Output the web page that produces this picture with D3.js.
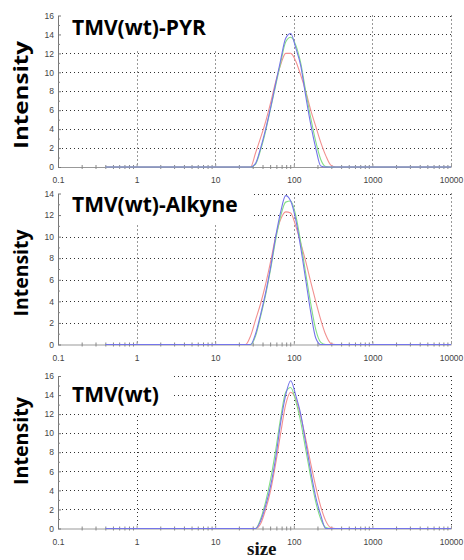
<!DOCTYPE html>
<html>
<head>
<meta charset="utf-8">
<script src="https://cdn.jsdelivr.net/npm/d3@7"></script>
<style>
  body { margin: 0; background: #fff; }
</style>
</head>
<body>
<div id="chart"></div>
<script>
// size bins (nm), shared by all three measurements
var sizes = [0.4, 21.04, 24.36, 28.21, 32.67, 37.84, 43.82, 50.75, 58.77, 68.06, 78.82, 91.28,
             105.7, 122.4, 141.8, 164.2, 190.1, 220.2, 255.0, 295.3, 342.0, 396.1, 10000];

// TMV(wt)-PYR
var pyrRed   = [0, 0, 0, 0, 1.5, 3.1, 4.8, 6.8, 9.0, 10.8, 12.0, 12.0, 11.2, 9.7, 8.0, 6.0, 4.3, 2.6, 1.2, 0.2, 0, 0, 0];
var pyrGreen = [0, 0, 0, 0, 0.3, 1.8, 3.8, 6.2, 8.6, 11.0, 13.2, 13.7, 12.9, 11.0, 8.0, 5.2, 2.7, 0.8, 0.05, 0, 0, 0, 0];
var pyrBlue  = [0, 0, 0, 0, 0.4, 2.0, 4.0, 6.3, 8.8, 11.3, 13.6, 14.1, 12.6, 10.7, 7.5, 4.5, 2.0, 0.1, 0, 0, 0, 0, 0];

// TMV(wt)-Alkyne
var alkRed   = [0, 0, 0, 0.8, 2.3, 3.8, 5.6, 7.7, 10.0, 11.6, 12.3, 12.2, 11.0, 9.4, 7.7, 5.8, 4.0, 2.3, 0.9, 0.1, 0, 0, 0];
var alkGreen = [0, 0, 0, 0, 0.8, 2.6, 4.6, 7.0, 9.7, 11.9, 13.2, 13.3, 12.0, 9.5, 6.6, 3.8, 1.4, 0.2, 0, 0, 0, 0, 0];
var alkBlue  = [0, 0, 0, 0, 1.0, 2.8, 4.8, 7.2, 10.0, 12.3, 13.8, 13.3, 11.6, 9.0, 6.0, 3.0, 0.6, 0, 0, 0, 0, 0, 0];

// TMV(wt)
var wtRed   = [0, 0, 0, 0, 0, 0.5, 2.0, 4.0, 6.8, 10.0, 13.0, 14.3, 13.6, 11.8, 9.4, 6.8, 4.4, 2.3, 0.8, 0.1, 0, 0, 0];
var wtGreen = [0, 0, 0, 0, 0, 1.0, 2.8, 5.2, 8.2, 11.6, 14.3, 14.8, 13.4, 11.2, 8.3, 5.4, 2.8, 1.0, 0.1, 0, 0, 0, 0];
var wtBlue  = [0, 0, 0, 0, 0, 0.8, 2.4, 4.5, 7.4, 11.1, 14.0, 15.5, 14.0, 12.0, 9.0, 6.0, 3.3, 1.4, 0, 0, 0, 0, 0];

var panelTitles = ["TMV(wt)-PYR", "TMV(wt)-Alkyne", "TMV(wt)"];
var panelYMax = [16, 14, 16];
var xTickValues = [0.1, 1, 10, 100, 1000, 10000];
var xTickLabels = ["0.1", "1", "10", "100", "1000", "10000"];
var seriesColors = ["#f29090", "#84de84", "#7474ea"];

var panelSeries = [
    [pyrRed, pyrGreen, pyrBlue],
    [alkRed, alkGreen, alkBlue],
    [wtRed, wtGreen, wtBlue]
];

// layout of each panel (pixels)
var layout = [
    { top: 15.5, bottom: 167, boxRight: 282, boxBottom: 51, titleY: 35, labelY: 95, labelLen: 108 },
    { top: 193.5, bottom: 344.5, boxRight: 252, boxBottom: 223, titleY: 212, labelY: 273, labelLen: 87 },
    { top: 376, bottom: 528.5, boxRight: 172, boxBottom: 413, titleY: 402, labelY: 441, labelLen: 88 }
];

var svg = d3.select("#chart")
    .append("svg")
    .attr("width", 464)
    .attr("height", 560);

var x = d3.scaleLog().domain([0.1, 10000]).range([58, 451]);
var minorX = x.ticks().filter(function (d) {
    return xTickValues.indexOf(d) < 0;
});

panelTitles.forEach(function (title, p) {
    var L = layout[p];
    var ymax = panelYMax[p];
    var y = d3.scaleLinear().domain([0, ymax]).range([L.bottom, L.top]);
    var g = svg.append("g");

    var majorY = d3.range(0, ymax + 1, 2);
    var minorY = d3.range(1, ymax, 2);

    // dotted grid
    g.selectAll(".hgrid")
        .data(majorY.filter(function (d) { return d > 0; }))
        .enter()
        .append("line")
        .attr("x1", x(0.1))
        .attr("x2", x(10000))
        .attr("y1", function (d) { return Math.round(y(d)) + 0.5; })
        .attr("y2", function (d) { return Math.round(y(d)) + 0.5; })
        .style("stroke", "#333")
        .style("stroke-dasharray", "1,3");

    g.selectAll(".vgrid")
        .data(xTickValues.slice(1))
        .enter()
        .append("line")
        .attr("x1", function (d) { return Math.round(x(d)) + 0.5; })
        .attr("x2", function (d) { return Math.round(x(d)) + 0.5; })
        .attr("y1", y(ymax))
        .attr("y2", y(0))
        .style("stroke", "#333")
        .style("stroke-dasharray", "1,3");

    // white box behind the title
    g.append("rect")
        .attr("x", x(0.1) + 1)
        .attr("y", L.top - 3)
        .attr("width", L.boxRight - x(0.1) - 1)
        .attr("height", L.boxBottom - L.top + 3)
        .style("fill", "#fff");

    // x axis
    g.append("g")
        .attr("transform", "translate(0," + y(0) + ")")
        .call(d3.axisBottom(x).tickValues(xTickValues)
            .tickFormat(function (d, i) { return xTickLabels[i]; })
            .tickSizeInner(-3).tickSizeOuter(0).tickPadding(10))
        .call(function (a) {
            a.select(".domain").style("stroke", "#999");
            a.selectAll(".tick line").style("stroke", "#999");
            a.selectAll("text").style("font-family", "Liberation Sans, Arial")
                .style("font-size", "8.5px").style("fill", "#444");
        });

    g.append("g")
        .attr("transform", "translate(0," + y(0) + ")")
        .call(d3.axisBottom(x).tickValues(minorX).tickFormat("")
            .tickSizeInner(-2).tickSizeOuter(0))
        .call(function (a) {
            a.select(".domain").remove();
            a.selectAll(".tick line").style("stroke", "#888").attr("y2", 2).attr("y1", -2);
        });

    // y axis
    g.append("g")
        .attr("transform", "translate(" + x(0.1) + ",0)")
        .call(d3.axisLeft(y).tickValues(majorY)
            .tickSizeInner(-3).tickSizeOuter(0).tickPadding(4))
        .call(function (a) {
            a.select(".domain").style("stroke", "#777");
            a.selectAll(".tick line").style("stroke", "#777");
            a.selectAll("text").style("font-family", "Liberation Sans, Arial")
                .style("font-size", "8.5px").style("fill", "#444");
        });

    g.append("g")
        .attr("transform", "translate(" + x(0.1) + ",0)")
        .call(d3.axisLeft(y).tickValues(minorY).tickFormat("")
            .tickSizeInner(-2).tickSizeOuter(0))
        .call(function (a) {
            a.select(".domain").remove();
            a.selectAll(".tick line").style("stroke", "#888");
        });

    // curves
    var line = d3.line()
        .x(function (d) { return x(d[0]); })
        .y(function (d) { return y(d[1]); })
        .curve(d3.curveMonotoneX);

    panelSeries[p].forEach(function (vals, s) {
        g.append("path")
            .datum(sizes.map(function (sz, i) { return [sz, vals[i]]; }))
            .attr("d", line)
            .style("fill", "none")
            .style("stroke", seriesColors[s])
            .style("stroke-width", 1.1);
    });

    // title
    g.append("text")
        .text(title)
        .attr("x", 72)
        .attr("y", L.titleY)
        .style("font-family", "Open Sans")
        .style("font-weight", "bold")
        .style("font-size", "21px")
        .style("fill", "#000");

    // y label
    g.append("text")
        .text("Intensity")
        .attr("transform", "translate(28," + L.labelY + ") rotate(-90)")
        .attr("text-anchor", "middle")
        .attr("textLength", L.labelLen)
        .attr("lengthAdjust", "spacingAndGlyphs")
        .style("font-family", "Open Sans")
        .style("font-weight", "bold")
        .style("font-size", "20px")
        .style("fill", "#000");
});

svg.append("text")
    .text("size")
    .attr("x", 247)
    .attr("y", 555)
    .style("font-family", "Liberation Serif")
    .style("font-weight", "bold")
    .style("font-size", "19px")
    .style("fill", "#111");
</script>
</body>
</html>
